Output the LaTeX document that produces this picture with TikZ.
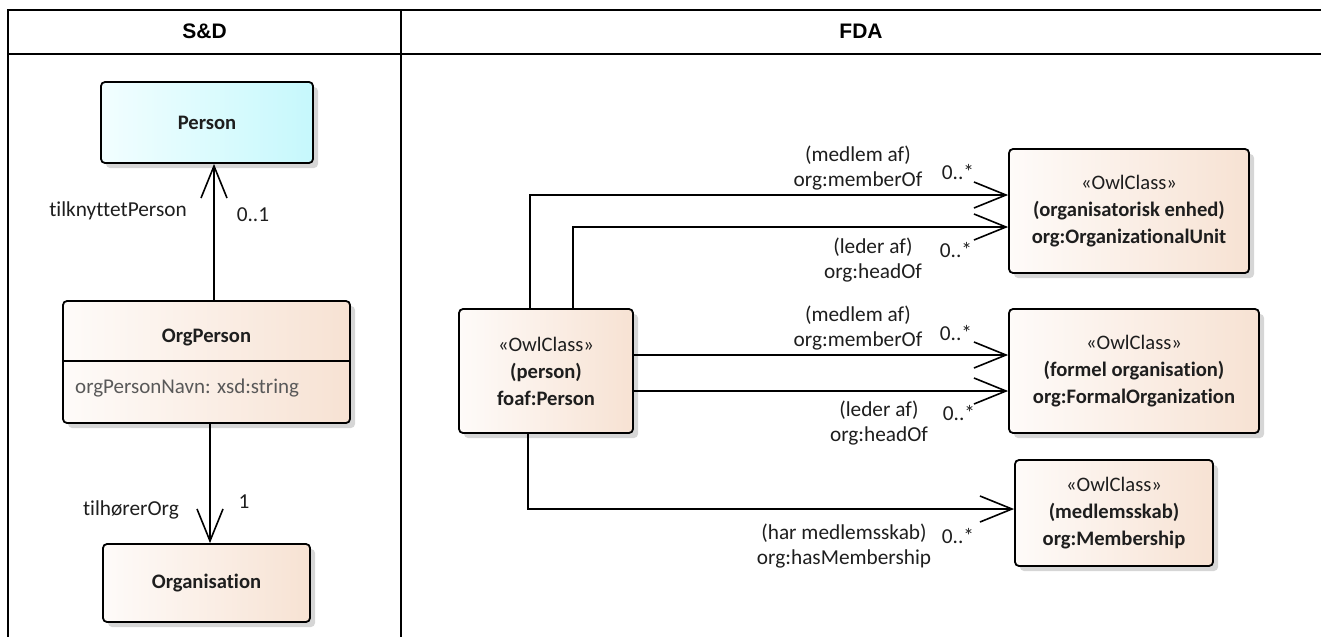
\documentclass[tikz,border=0pt]{standalone}
\usepackage{fontspec}
\setmainfont{Carlito}[Ligatures=NoCommon]
\newfontfamily\hdrfont{Liberation Sans}
\usetikzlibrary{arrows.meta,shadows}
\definecolor{peachL}{HTML}{FEFBF9}
\definecolor{peachR}{HTML}{F7E2D3}
\definecolor{cyanL}{HTML}{F2FEFF}
\definecolor{cyanR}{HTML}{C6F8FC}
\definecolor{txt}{HTML}{1E1E1E}
\definecolor{attr}{HTML}{595959}
\begin{document}
\begin{tikzpicture}[x=1pt,y=-1pt,
  box/.style={draw=black,line width=1.8pt,rounded corners=4pt,
    left color=peachL,right color=peachR,
    drop shadow={shadow xshift=5pt,shadow yshift=-5pt,fill=black!16,opacity=1},
    inner sep=0pt,align=center,text=txt,font=\fontsize{20.6}{27}\selectfont},
  cyanbox/.style={box,left color=cyanL,right color=cyanR},
  lbl/.style={font=\fontsize{21.3}{25}\selectfont,text=txt,align=center,inner sep=0pt},
  assoc/.style={line width=1.6pt,-{Straight Barb[length=32pt,width=26pt,line width=1.6pt]}},
  frame/.style={line width=2.5pt},
  hdr/.style={font=\hdrfont\bfseries\fontsize{21}{25}\selectfont,inner sep=0pt}]
\useasboundingbox (0,0) rectangle (1321,637);

% table frame
\coordinate (tl) at (8,10);
\coordinate (tr) at (1321,10);
\coordinate (hl) at (8,54);
\coordinate (hr) at (1321,54);
\coordinate (bl) at (8,637);
\coordinate (dt) at (401,10);
\coordinate (db) at (401,637);
\draw[frame] (tr) -- (tl) -- (bl);
\draw[frame] (hl) -- (hr);
\draw[frame] (dt) -- (db);
\node[hdr] (hsd) at (204.5,31) {S\&D};
\node[hdr] (hfda) at (861,31) {FDA};

% S&D side
\node[cyanbox,minimum width=212pt,minimum height=81pt] (person) at (207,122.5) {\textbf{Person}};
\node[box,minimum width=287pt,minimum height=122pt] (op) at (206.5,362) {};
\node[font=\fontsize{20.6}{27}\selectfont\bfseries,text=txt,inner sep=0pt] (opT) at (206.5,337) {OrgPerson};
\node[font=\fontsize{21}{27}\selectfont,text=attr,inner sep=0pt,anchor=west] (opA) at (75,388) {orgPersonNavn: xsd:string};
\draw[line width=1.8pt] (op.west |- 0,361) -- (op.east |- 0,361);
\node[box,minimum width=207pt,minimum height=78pt] (org) at (206.5,583) {\textbf{Organisation}};

\draw[assoc] ([xshift=7.5pt]op.north) -- ([xshift=7pt]person.south);
\node[lbl] (l1) at (118,211) {tilknyttetPerson};
\node[lbl] (m1) at (253,215) {0..1};
\draw[assoc] ([xshift=3.5pt]op.south) -- ([xshift=3.5pt]org.north);
\node[lbl] (l2) at (131,510) {tilhørerOrg};
\node[lbl] (m2) at (244,502) {1};

% FDA side
\node[box,minimum width=174pt,minimum height=124pt] (fp) at (546,371)
  {«OwlClass»\\\textbf{(person)}\\\textbf{foaf:Person}};
\node[box,minimum width=240pt,minimum height=124pt] (ou) at (1129,211)
  {«OwlClass»\\\textbf{(organisatorisk enhed)}\\\textbf{org:OrganizationalUnit}};
\node[box,minimum width=250pt,minimum height=124pt] (fo) at (1134,371)
  {«OwlClass»\\\textbf{(formel organisation)}\\\textbf{org:FormalOrganization}};
\node[box,minimum width=198pt,minimum height=106pt] (mem) at (1114,513)
  {«OwlClass»\\\textbf{(medlemsskab)}\\\textbf{org:Membership}};

\draw[assoc] ([xshift=-16pt]fp.north) |- ([yshift=16pt]ou.west);
\draw[assoc] ([xshift=27pt]fp.north) |- ([yshift=-16pt]ou.west);
\draw[assoc] ([yshift=16pt]fp.east) -- ([yshift=16pt]fo.west);
\draw[assoc] ([yshift=-20pt]fp.east) -- ([yshift=-20pt]fo.west);
\draw[assoc] ([xshift=-18pt]fp.south) |- ([yshift=4pt]mem.west);

\node[lbl] (a1) at (858,168) {(medlem af)\\org:memberOf};
\node[lbl] (b1) at (958,172) {0..*};
\node[lbl] (a2) at (873,260) {(leder af)\\org:headOf};
\node[lbl] (b2) at (956,250) {0..*};
\node[lbl] (a3) at (858,328) {(medlem af)\\org:memberOf};
\node[lbl] (b3) at (956,333) {0..*};
\node[lbl] (a4) at (879,423) {(leder af)\\org:headOf};
\node[lbl] (b4) at (959,413) {0..*};
\node[lbl] (a5) at (844,546) {(har medlemsskab)\\org:hasMembership};
\node[lbl] (b5) at (958,536) {0..*};
\end{tikzpicture}
\end{document}
